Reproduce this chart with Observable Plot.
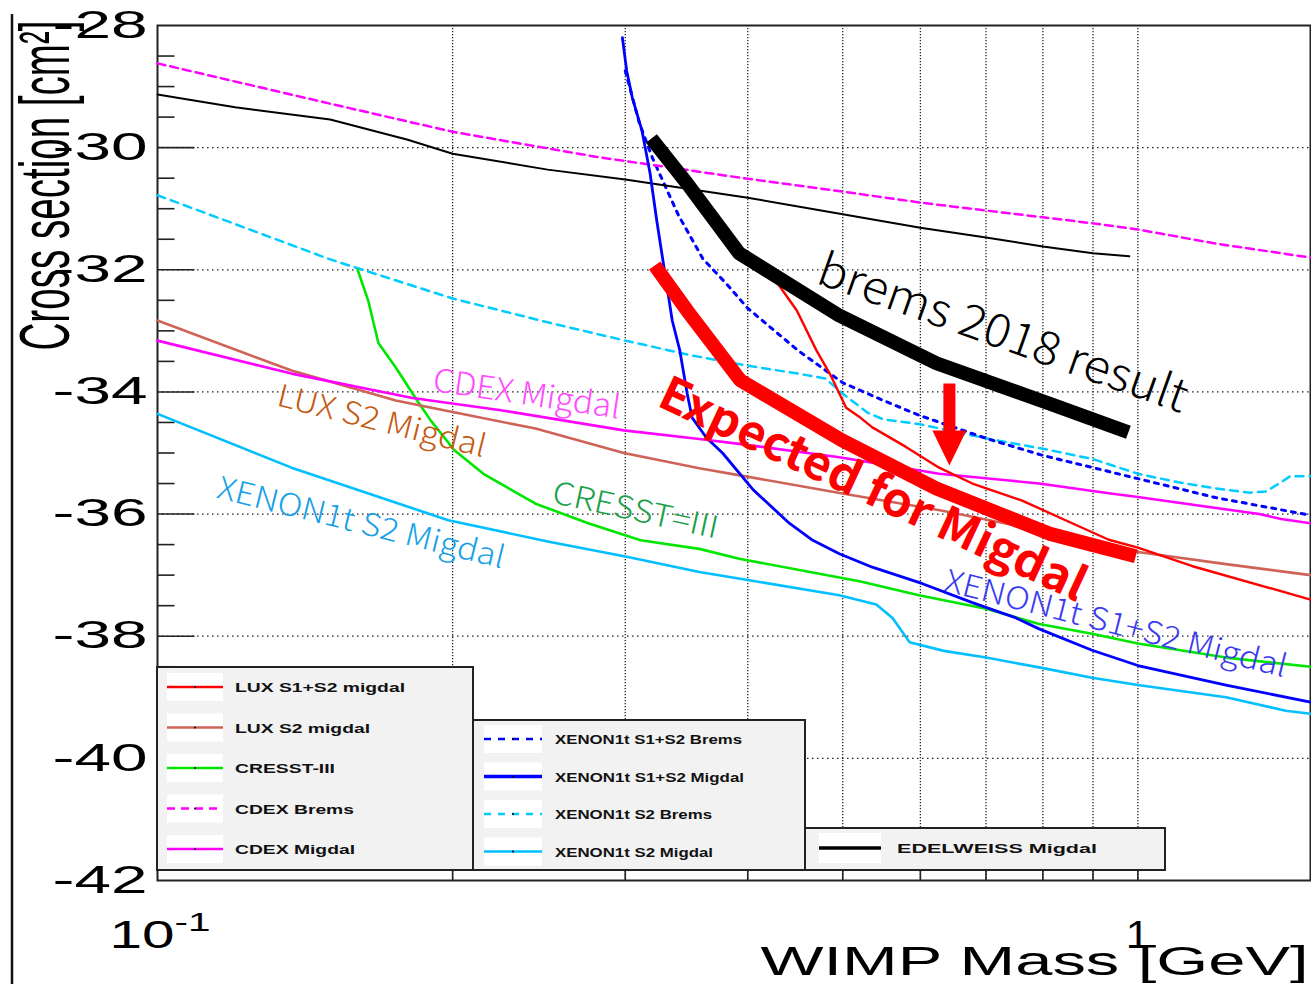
<!DOCTYPE html>
<html>
<head>
<meta charset="utf-8">
<script src="https://cdn.jsdelivr.net/npm/d3@7"></script>
<script src="https://cdn.jsdelivr.net/npm/@observablehq/plot@0.6"></script>
<style>
  html, body { margin: 0; padding: 0; background: #fff; }
  svg { display: block; }
</style>
</head>
<body>
<div id="chart"></div>
<script>
// ---------------- data (x = WIMP mass in GeV, y = log10 cross section) ----------------
const luxS1S2Migdal = [[0.429,-32.22],[0.449,-32.67],[0.47,-33.32],[0.485,-33.7],[0.504,-34.26],[0.521,-34.42],[0.536,-34.58],[0.58,-34.9],[0.627,-35.24],[0.678,-35.5],[0.762,-35.78],[0.857,-36.15],[0.934,-36.42],[1.0,-36.55],[1.135,-36.85],[1.5,-37.4]];
const luxS2Migdal = [[0.1,-32.83],[0.137,-33.65],[0.175,-34.14],[0.2,-34.33],[0.243,-34.6],[0.299,-35.0],[0.357,-35.25],[0.394,-35.37],[0.498,-35.66],[0.63,-35.94],[0.784,-36.25],[0.898,-36.45],[1.0,-36.62],[1.23,-36.82],[1.5,-37.0]];
const cresst3 = [[0.16,-32.0],[0.164,-32.5],[0.168,-33.2],[0.175,-33.6],[0.184,-34.14],[0.19,-34.47],[0.201,-34.96],[0.215,-35.34],[0.243,-35.83],[0.275,-36.15],[0.311,-36.43],[0.357,-36.57],[0.392,-36.73],[0.496,-37.04],[0.52,-37.1],[0.598,-37.33],[0.7,-37.55],[0.793,-37.8],[0.898,-37.96],[1.0,-38.12],[1.23,-38.35],[1.5,-38.5]];
const cdexBrems = [[0.1,-28.62],[0.15,-29.28],[0.2,-29.74],[0.28,-30.15],[0.4,-30.51],[0.5,-30.72],[0.6,-30.9],[0.7,-31.03],[0.8,-31.14],[0.9,-31.24],[1.0,-31.34],[1.2,-31.57],[1.5,-31.8]];
const cdexMigdal = [[0.1,-33.16],[0.137,-33.7],[0.182,-34.1],[0.224,-34.3],[0.299,-34.63],[0.357,-34.77],[0.392,-34.85],[0.496,-35.07],[0.627,-35.34],[0.739,-35.45],[0.793,-35.5],[0.934,-35.66],[1.0,-35.72],[1.33,-36.0],[1.4,-36.08],[1.5,-36.15]];
const xenonS1S2Brems = [[0.3,-28.74],[0.31,-29.59],[0.32,-30.18],[0.34,-31.11],[0.36,-31.82],[0.38,-32.22],[0.4,-32.63],[0.45,-33.32],[0.5,-33.85],[0.55,-34.14],[0.6,-34.39],[0.7,-34.76],[0.8,-35.04],[0.9,-35.24],[1.0,-35.42],[1.2,-35.73],[1.5,-36.02]];
const xenonS1S2Migdal = [[0.298,-28.2],[0.301,-28.74],[0.305,-29.18],[0.312,-29.72],[0.318,-30.42],[0.323,-31.19],[0.328,-31.88],[0.335,-32.83],[0.341,-33.32],[0.347,-34.03],[0.351,-34.42],[0.363,-34.75],[0.377,-35.0],[0.405,-35.6],[0.441,-36.15],[0.466,-36.43],[0.496,-36.65],[0.536,-36.87],[0.603,-37.14],[0.678,-37.45],[0.751,-37.7],[0.793,-37.88],[0.898,-38.23],[1.0,-38.48],[1.23,-38.8],[1.5,-39.08]];
const xenonS2Brems = [[0.1,-30.78],[0.15,-31.83],[0.2,-32.47],[0.25,-32.86],[0.3,-33.16],[0.35,-33.4],[0.4,-33.57],[0.45,-33.7],[0.48,-33.78],[0.5,-34.03],[0.53,-34.34],[0.55,-34.45],[0.6,-34.53],[0.65,-34.65],[0.7,-34.76],[0.8,-34.93],[0.9,-35.1],[1.0,-35.34],[1.1,-35.48],[1.2,-35.58],[1.3,-35.65],[1.35,-35.63],[1.4,-35.48],[1.43,-35.38],[1.5,-35.38]];
const xenonS2Migdal = [[0.1,-34.36],[0.137,-35.24],[0.177,-35.84],[0.198,-36.1],[0.25,-36.45],[0.301,-36.7],[0.357,-36.95],[0.4,-37.08],[0.496,-37.33],[0.541,-37.48],[0.562,-37.7],[0.585,-38.1],[0.634,-38.24],[0.7,-38.35],[0.793,-38.51],[0.898,-38.68],[1.0,-38.8],[1.23,-39.0],[1.415,-39.22],[1.5,-39.27]];
const edelweissMigdal = [[0.1,-29.13],[0.12,-29.34],[0.15,-29.54],[0.18,-29.87],[0.2,-30.1],[0.25,-30.36],[0.3,-30.52],[0.4,-30.82],[0.5,-31.09],[0.6,-31.31],[0.7,-31.47],[0.8,-31.62],[0.9,-31.73],[0.98,-31.78]];
const brems2018 = [[0.319,-29.85],[0.347,-30.59],[0.392,-31.73],[0.496,-32.75],[0.623,-33.53],[0.812,-34.19],[0.978,-34.66]];
const expectedMigdal = [[0.3215,-31.93],[0.347,-32.67],[0.393,-33.81],[0.499,-34.79],[0.623,-35.58],[0.812,-36.32],[0.995,-36.69]];
const arrowStart = [[0.6423,-33.86]];

// ticks
const yLabelTicks = [-28,-30,-32,-34,-36,-38,-40,-42];
const yGridTicks = [-30,-32,-34,-36,-38,-40];
const yMinorTicks = [-28.5,-29,-29.5,-30.5,-31,-31.5,-32.5,-33,-33.5,-34.5,-35,-35.5,-36.5,-37,-37.5,-38.5,-39,-39.5,-40.5,-41,-41.5];
const xGridTicks = [0.2,0.3,0.4,0.5,0.6,0.7,0.8,0.9,1];

// legend labels
const legend1Labels = ["LUX S1+S2 migdal","LUX S2 migdal","CRESST-III","CDEX Brems","CDEX Migdal"];
const legend2Labels = ["XENON1t S1+S2 Brems","XENON1t S1+S2 Migdal","XENON1t S2 Brems","XENON1t S2 Migdal"];
const legend3Labels = ["EDELWEISS Migdal"];

// ---------------- styles ----------------
const ROOT_FONT = "'Liberation Sans', Arial, Helvetica, sans-serif";
const JP_FONT = "'Noto Sans CJK JP', 'Noto Sans', sans-serif";
const C = {
  luxS1S2: "#ff0000", luxS2: "#cf6358", cresst: "#00e600", cdex: "#ff00ff",
  xeS1S2: "#0000ff", xeS2B: "#00ccff", xeS2M: "#00bfff", edel: "#000000"
};

const series = [
  {data: xenonS2Brems, stroke: C.xeS2B, width: 2.5, dash: "8,6"},
  {data: xenonS1S2Brems, stroke: C.xeS1S2, width: 3, dash: "4,6"},
  {data: cdexBrems, stroke: C.cdex, width: 2.5, dash: "8,5"},
  {data: edelweissMigdal, stroke: C.edel, width: 2},
  {data: xenonS2Migdal, stroke: C.xeS2M, width: 2.6},
  {data: cresst3, stroke: C.cresst, width: 2.6},
  {data: luxS2Migdal, stroke: C.luxS2, width: 2.6},
  {data: cdexMigdal, stroke: C.cdex, width: 2.6},
  {data: luxS1S2Migdal, stroke: C.luxS1S2, width: 2.4},
  {data: xenonS1S2Migdal, stroke: C.xeS1S2, width: 2.8}
];

const notes = [
  {text: "CDEX Migdal", x: 0.1904, y: -33.98, angle: 8.5, color: "#ff4cff", size: 32, len: 189},
  {text: "LUX S2 Migdal", x: 0.1319, y: -34.22, angle: 14, color: "#c55a11", size: 31, len: 214},
  {text: "XENON1t S2 Migdal", x: 0.1146, y: -35.73, angle: 13.9, color: "#16a0e6", size: 31, len: 295},
  {text: "CRESST=III", x: 0.2518, y: -35.81, angle: 12.3, color: "#1ca04a", size: 31, len: 169},
  {text: "XENON1t S1+S2 Migdal", x: 0.6322, y: -37.25, angle: 14.3, color: "#3a3af2", size: 31, len: 352},
  {text: "brems 2018 result", x: 0.468, y: -32.21, angle: 19.6, color: "#000000", size: 46, len: 389},
  {text: "Expected for Migdal", x: 0.3221, y: -34.22, angle: 25, color: "#ff0000", size: 47, len: 465, weight: "bold"}
];

const hTick = len => ({draw(ctx) { ctx.moveTo(0, 0); ctx.lineTo(len, 0); }});
const vTick = len => ({draw(ctx) { ctx.moveTo(0, 0); ctx.lineTo(0, -len); }});
const arrowShape = {draw(ctx) {
  ctx.moveTo(-6, 0); ctx.lineTo(6, 0); ctx.lineTo(6, 47); ctx.lineTo(17, 47);
  ctx.lineTo(0, 82); ctx.lineTo(-17, 47); ctx.lineTo(-6, 47); ctx.closePath();
}};

const X = d => d[0], Y = d => d[1];

const marks = [
  // grid
  Plot.ruleX(xGridTicks, {x: d => d, stroke: "#222", strokeWidth: 1.3, strokeDasharray: "1.3,1.7"}),
  Plot.ruleY(yGridTicks, {y: d => d, stroke: "#222", strokeWidth: 1.3, strokeDasharray: "1.5,3.5"}),
  Plot.frame({stroke: "#222", strokeWidth: 2}),
  // ticks
  Plot.dot(yGridTicks, {y: d => d, frameAnchor: "left", symbol: hTick(37), stroke: "#222", strokeWidth: 1.6, fill: "none"}),
  Plot.dot(yMinorTicks, {y: d => d, frameAnchor: "left", symbol: hTick(17), stroke: "#222", strokeWidth: 1.6, fill: "none"}),
  Plot.dot(xGridTicks, {x: d => d, frameAnchor: "bottom", symbol: vTick(10), stroke: "#222", strokeWidth: 1.6, fill: "none"}),
  // curves
  ...series.map(s => Plot.line(s.data, {x: X, y: Y, stroke: s.stroke, strokeWidth: s.width, strokeDasharray: s.dash, strokeLinejoin: "round"})),
  Plot.line(brems2018, {x: X, y: Y, stroke: "#000", strokeWidth: 14, strokeLinecap: "butt", strokeLinejoin: "miter"}),
  Plot.line(expectedMigdal, {x: X, y: Y, stroke: "#ff0000", strokeWidth: 14, strokeLinecap: "butt", strokeLinejoin: "miter"}),
  Plot.dot(arrowStart, {x: X, y: Y, symbol: arrowShape, fill: "#ff0000", stroke: "none"}),
  // annotations
  ...notes.map(n => Plot.text([n], {
    x: d => d.x, y: d => d.y, text: d => d.text, rotate: n.angle, fill: n.color,
    fontSize: n.size, fontWeight: n.weight || 300, fontFamily: JP_FONT,
    textAnchor: "start", lineAnchor: "bottom"
  })),
  // axis labels
  Plot.text(yLabelTicks, {y: d => d, text: d => String(d), frameAnchor: "left", dx: -10, textAnchor: "end",
    lineAnchor: "middle", fontSize: 38, fontFamily: ROOT_FONT, fill: "#000"}),
  Plot.text([0.1], {x: d => d, text: () => "10", frameAnchor: "bottom", dx: 17, dy: 67, textAnchor: "end",
    lineAnchor: "bottom", fontSize: 38, fontFamily: ROOT_FONT, fill: "#000"}),
  Plot.text([0.1], {x: d => d, text: () => "-1", frameAnchor: "bottom", dx: 17, dy: 50, textAnchor: "start",
    lineAnchor: "bottom", fontSize: 25, fontFamily: ROOT_FONT, fill: "#000"}),
  Plot.text([1], {x: d => d, text: () => "1", frameAnchor: "bottom", dy: 67, textAnchor: "middle",
    lineAnchor: "bottom", fontSize: 38, fontFamily: ROOT_FONT, fill: "#000"}),
  Plot.text(["WIMP Mass [GeV]"], {frameAnchor: "bottom-right", dx: -550, dy: 94, textAnchor: "start",
    lineAnchor: "bottom", fontSize: 41, fontFamily: ROOT_FONT, fill: "#000"}),
  Plot.text(["Cross section [cm²]"], {frameAnchor: "top-left", dx: -89, dy: 325, rotate: -90, textAnchor: "start",
    lineAnchor: "bottom", fontSize: 38, fontFamily: ROOT_FONT, fill: "#000"})
];

const plot = Plot.plot({
  width: 1311,
  height: 984,
  marginLeft: 157,
  marginRight: 1,
  marginTop: 25,
  marginBottom: 104,
  x: {type: "log", domain: [0.1, 1.5], axis: null},
  y: {domain: [-42, -28], axis: null},
  style: {background: "#fff", overflow: "visible"},
  marks
});

document.getElementById("chart").appendChild(plot);

// ---------- post-processing: stretched ROOT-style glyphs ----------
const svgEl = plot.tagName.toLowerCase() === "svg" ? plot : plot.querySelector("svg");
const plotTexts = Array.from(svgEl.querySelectorAll("text"));
function fit(content, len) {
  plotTexts.filter(t => t.textContent === content).forEach(t => {
    t.setAttribute("textLength", len);
    t.setAttribute("lengthAdjust", "spacingAndGlyphs");
  });
}
notes.forEach(n => fit(n.text, n.len));
yLabelTicks.forEach(v => fit(String(v), 95));
fit("10", 65);
fit("-1", 36);
fit("1", 24);
fit("WIMP Mass [GeV]", 548);
fit("Cross section [cm²]", 330);
plotTexts.filter(t => t.textContent === "Cross section [cm²]").forEach(t => {
  const tr = t.getAttribute("transform") || "";
  t.setAttribute("transform", tr.replace("rotate(", "scale(1.85,1) rotate("));
});

// ---------- legends (ROOT TLegend style boxes) ----------
const svg = d3.select(svgEl);
svg.append("line").attr("x1", 12).attr("x2", 12).attr("y1", 14).attr("y2", 984)
  .attr("stroke", "#111").attr("stroke-width", 2.5);

const legendStyles1 = [
  {color: C.luxS1S2}, {color: C.luxS2}, {color: C.cresst}, {color: C.cdex, dash: "8,6"}, {color: C.cdex}
];
const legendStyles2 = [
  {color: C.xeS1S2, dash: "7,7"}, {color: C.xeS1S2, width: 3.5}, {color: C.xeS2B, dash: "7,7"}, {color: C.xeS2M}
];
const legendStyles3 = [{color: "#000", width: 3.5}];
const lens1 = [170, 135, 100, 119, 120];
const lens2 = [187, 189, 157, 158];
const lens3 = [200];

function legendBox(box, labels, styles, lens) {
  const g = svg.append("g");
  g.append("rect").attr("x", box.x).attr("y", box.y).attr("width", box.w).attr("height", box.h)
    .attr("fill", "#f2f2f2").attr("stroke", "#222").attr("stroke-width", 2);
  labels.forEach((lab, i) => {
    const cy = box.y0 + i * box.step;
    const st = styles[i];
    g.append("rect").attr("x", box.sx).attr("y", cy - box.sh / 2).attr("width", box.sw).attr("height", box.sh)
      .attr("fill", "#fff");
    g.append("line").attr("x1", box.sx).attr("x2", box.sx + box.sw).attr("y1", cy).attr("y2", cy)
      .attr("stroke", st.color).attr("stroke-width", st.width || 2.6)
      .attr("stroke-dasharray", st.dash || null);
    g.append("circle").attr("cx", box.sx + box.sw / 2).attr("cy", cy).attr("r", 1).attr("fill", "#000");
    g.append("text").attr("x", box.tx).attr("y", cy + 5).text(lab)
      .attr("text-anchor", "start")
      .attr("font-family", ROOT_FONT).attr("font-weight", "bold").attr("font-size", 13.5)
      .attr("fill", "#111").attr("textLength", lens[i]).attr("lengthAdjust", "spacingAndGlyphs");
  });
}
legendBox({x: 157, y: 667, w: 316, h: 203, y0: 687, step: 40.5, sx: 167, sw: 56, sh: 28, tx: 235}, legend1Labels, legendStyles1, lens1);
legendBox({x: 473, y: 720, w: 332, h: 150, y0: 739, step: 37.5, sx: 484, sw: 58, sh: 28, tx: 555}, legend2Labels, legendStyles2, lens2);
legendBox({x: 805, y: 828, w: 360, h: 42, y0: 848, step: 0, sx: 819, sw: 62, sh: 30, tx: 897}, legend3Labels, legendStyles3, lens3);
</script>
</body>
</html>
